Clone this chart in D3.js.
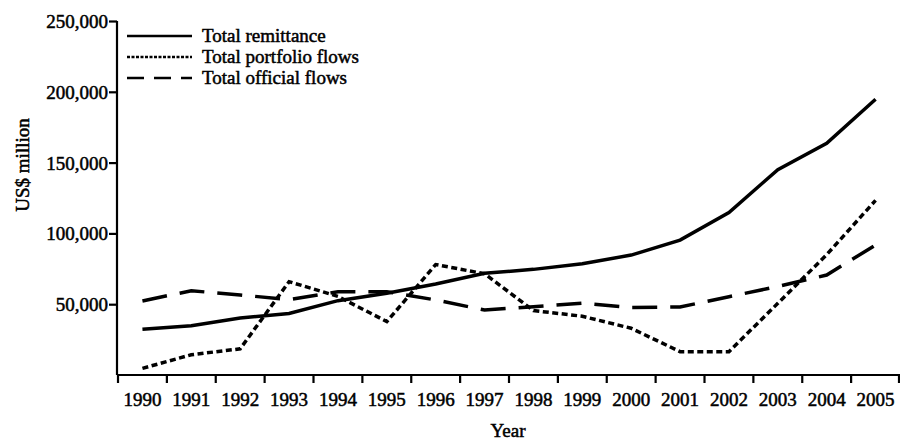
<!DOCTYPE html>
<html lang="en">
<head>
    <meta charset="UTF-8">
    <title>Remittance, portfolio and official flows</title>
    <script src="https://d3js.org/d3.v7.min.js"></script>
    <style>
        body { margin: 0; background: #fff; }
        svg { display: block; }
        text {
            font-family: "Liberation Serif", "Times New Roman", serif;
            font-size: 19px;
            fill: #000;
            stroke: #000;
            stroke-width: 0.5px;
        }
        .axis path, .axis line { stroke: #000; stroke-width: 2.2px; }
        .series { fill: none; stroke: #000; stroke-width: 3.5px; }
    </style>
</head>
<body>
    <svg id="chart" width="900" height="440"></svg>

    <script>
        // years on the x axis
        const years = d3.range(1990, 2006).map(String);

        // US$ million
        const remittance = [32300, 34800, 40200, 43400, 52500, 57700, 64300, 71800,
                            74600, 78500, 84700, 95300, 114800, 145000, 163600, 194700];
        const portfolio = [4700, 14300, 18500, 65900, 55500, 37700, 78000, 71500,
                           45500, 41500, 33000, 16500, 16500, 50600, 85000, 123300];
        const official = [52300, 59500, 56500, 53300, 58800, 58800, 53000, 45900,
                          48200, 50800, 47700, 48000, 55300, 62500, 70600, 91800];

        const yTicks = [50000, 100000, 150000, 200000, 250000];

        const seriesNames = ["Total remittance", "Total portfolio flows", "Total official flows"];
        const seriesValues = [remittance, portfolio, official];
        const dashes = [null, "6,3.5", "25,13"];
        const legendDashes = [null, "3,1.5", "17,10"];

        const svg = d3.select("#chart");

        const x = d3.scaleBand()
            .domain(years)
            .range([118, 900])
            .padding(0);

        const y = d3.scaleLinear()
            .domain([0, 250000])
            .range([375, 21]);

        // y axis
        svg.append("g")
            .attr("class", "axis")
            .attr("transform", "translate(117,0)")
            .call(d3.axisLeft(y)
                .tickValues(yTicks)
                .tickFormat(d3.format(","))
                .tickSize(8)
                .tickSizeOuter(0))
            .call(g => g.selectAll("text").attr("x", -9).attr("dy", "0.34em"))
            .call(g => g.select(".domain").attr("d", `M0,${y(0)}V${y(250000)}`));

        // x axis: labels at band centres, ticks at band edges
        const xAxis = svg.append("g")
            .attr("class", "axis")
            .attr("transform", `translate(0,${y(0)})`)
            .call(d3.axisBottom(x).tickSize(0).tickSizeOuter(0))
            .call(g => g.selectAll("text").attr("y", 18).attr("dy", "0.71em"))
            .call(g => g.select(".domain").attr("d", `M117,0H900`));

        xAxis.selectAll(".edge")
            .data(years.concat(["end"]))
            .enter().append("line")
            .attr("class", "edge")
            .attr("x1", d => d === "end" ? x(years[years.length - 1]) + x.bandwidth() - 1 : x(d))
            .attr("x2", d => d === "end" ? x(years[years.length - 1]) + x.bandwidth() - 1 : x(d))
            .attr("y1", 0)
            .attr("y2", 8);

        // axis titles
        svg.append("text")
            .attr("x", 508)
            .attr("y", 437)
            .attr("text-anchor", "middle")
            .text("Year");

        svg.append("text")
            .attr("transform", "translate(29,165) rotate(-90)")
            .attr("text-anchor", "middle")
            .text("US$ million");

        // lines
        const line = d3.line()
            .x((d, i) => x(years[i]) + x.bandwidth() / 2)
            .y(d => y(d));

        svg.selectAll(".series")
            .data(seriesValues)
            .enter().append("path")
            .attr("class", "series")
            .attr("d", d => line(d))
            .attr("stroke-dasharray", (d, i) => dashes[i]);

        // legend
        const legend = svg.append("g")
            .attr("transform", "translate(127,36)");

        const rows = legend.selectAll("g")
            .data(seriesNames)
            .enter().append("g")
            .attr("transform", (d, i) => `translate(0,${i * 21})`);

        rows.append("line")
            .attr("x1", 0)
            .attr("x2", 65)
            .attr("stroke", "#000")
            .attr("stroke-width", 2.4)
            .attr("stroke-dasharray", (d, i) => legendDashes[i]);

        rows.append("text")
            .attr("x", 75)
            .attr("y", 6)
            .text(d => d);
    </script>
</body>
</html>
